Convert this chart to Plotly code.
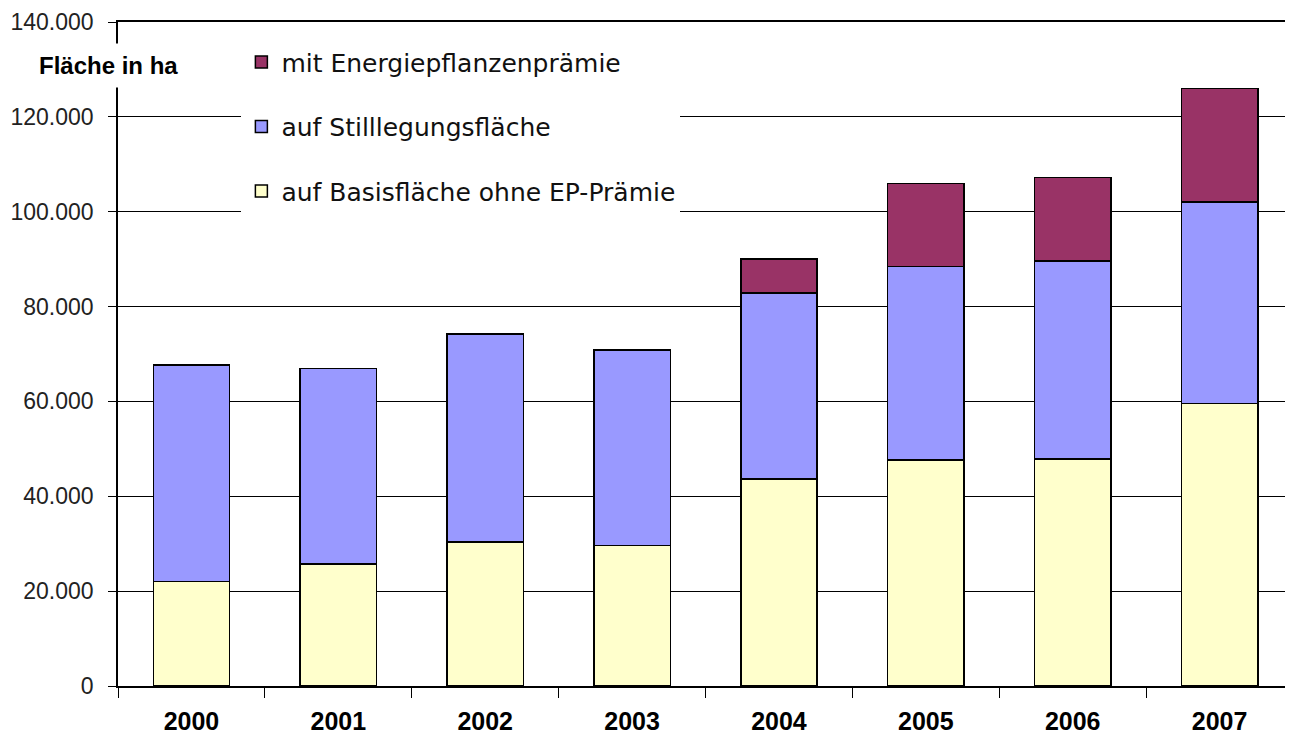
import plotly.graph_objects as go

YEARS = ["2000", "2001", "2002", "2003", "2004", "2005", "2006", "2007"]
BASIS = [22000, 25700, 30400, 29600, 43600, 47600, 47900, 59600]
STILLLEGUNG = [45700, 41200, 43800, 41200, 39300, 40800, 41700, 42400]
ENERGIE = [None, None, None, None, 7100, 17600, 17600, 24000]

NAMES = ["auf Basisfläche ohne EP-Prämie", "auf Stilllegungsfläche", "mit Energiepflanzenprämie"]
COLORS = ["#FFFFCC", "#9999FF", "#993366"]
LEGEND_RANK = [3, 2, 1]  # top of the stack is listed first

AXIS_FONT = "Liberation Sans, Arial, sans-serif"

fig = go.Figure()
for name, vals, color, rank in zip(NAMES, [BASIS, STILLLEGUNG, ENERGIE], COLORS, LEGEND_RANK):
    fig.add_trace(go.Bar(
        x=YEARS, y=vals, name=name, legendgroup=name, legendrank=rank,
        marker=dict(color=color, line=dict(color="black", width=1.5)),
    ))

# the page body has an 8px margin, so the figure is a bit smaller than the window
fig.update_layout(
    barmode="stack", bargap=0.48,
    width=1285, height=730,
    margin=dict(l=110, r=0, t=14, b=52, autoexpand=False),
    paper_bgcolor="white", plot_bgcolor="white",
    separators=",.",
    legend=dict(
        x=0.105, y=0.974, xanchor="left", yanchor="top",
        bgcolor="white", traceorder="grouped", tracegroupgap=29,
        font=dict(family="DejaVu Sans, sans-serif", size=25, color="#111"),
    ),
)
fig.update_yaxes(
    range=[0, 140000], dtick=20000, tickformat=",d", automargin=False,
    showgrid=True, gridcolor="black", gridwidth=1.2,
    showline=True, linecolor="black", linewidth=1.5,
    ticks="outside", ticklen=8, tickcolor="black", ticklabelstandoff=10,
    zeroline=False,
    tickfont=dict(family=AXIS_FONT, size=23, color="#222"),
)
fig.update_xaxes(
    showline=True, mirror=True, linecolor="black", linewidth=1.5, automargin=False,
    ticks="outside", tickson="boundaries", ticklen=10, tickcolor="black",
    ticklabelstandoff=12,
    tickfont=dict(family=AXIS_FONT, size=25, color="black", weight="bold"),
)
fig.add_annotation(
    text="<b>Fläche in ha</b>", xref="paper", yref="paper",
    x=-0.0077, y=0.934, xanchor="center", yanchor="middle", showarrow=False,
    bgcolor="white", borderpad=8,
    font=dict(family=AXIS_FONT, size=24, color="black"),
)

fig.write_html("out.html")
